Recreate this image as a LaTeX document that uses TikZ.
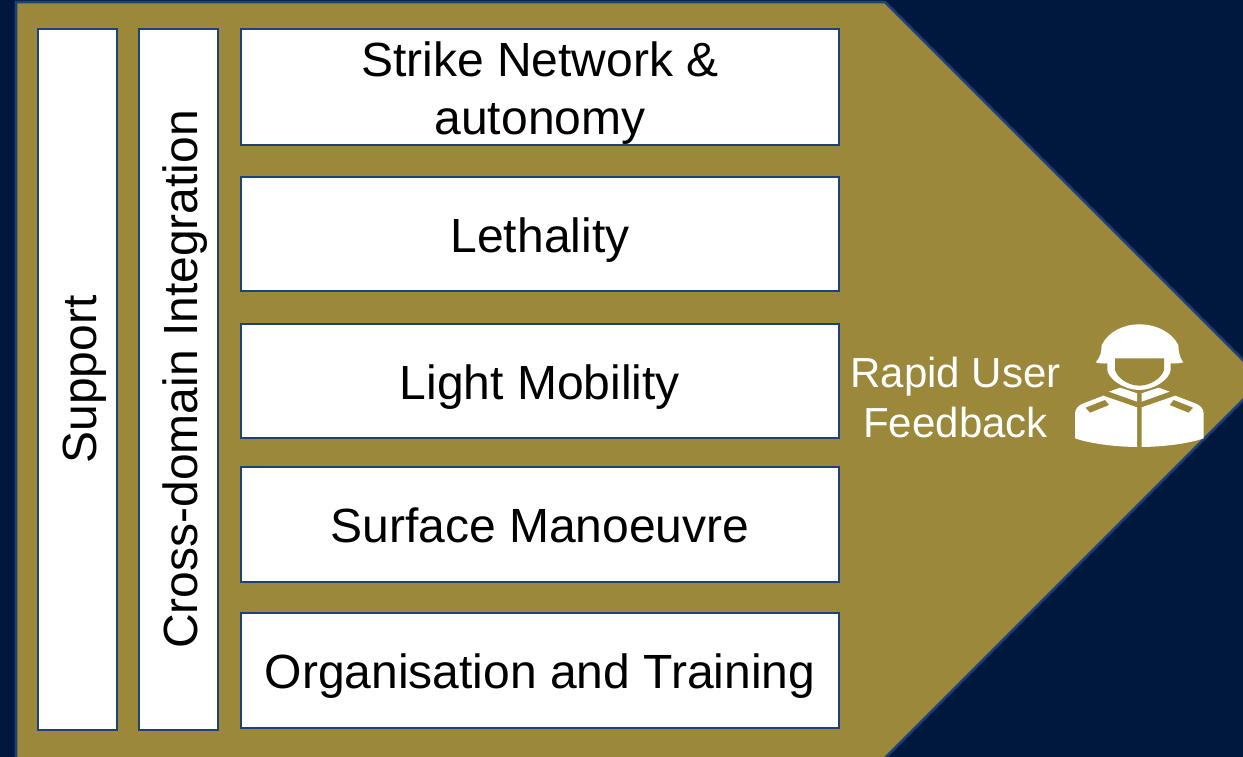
\documentclass[tikz,border=0pt]{standalone}
\usepackage{fontspec}
\setmainfont{Liberation Sans}
\definecolor{navy}{RGB}{0,24,62}
\definecolor{olive}{RGB}{155,136,58}
\definecolor{edge}{RGB}{28,66,120}
\tikzset{
    stream/.style={draw=edge, line width=2.6pt, fill=white, minimum width=598pt, minimum height=115pt, inner sep=0pt, align=center, font=\fontsize{48}{58}\selectfont, text height=36pt, text depth=0pt},
    pillar/.style={draw=edge, line width=2.6pt, fill=white, minimum width=701pt, minimum height=79pt, inner sep=0pt, rotate=90, font=\fontsize{48}{54}\selectfont, text height=37pt, text depth=0pt}
}
\begin{document}
\begin{tikzpicture}[x=1pt, y=-1pt]
        \useasboundingbox (0,0) rectangle (1243,757);
        \clip (0,0) rectangle (1243,757);
        \fill[navy] (0,0) rectangle (1243,757);
        \coordinate (tl) at (16,2);
        \coordinate (tr) at (885,2);
        \coordinate (tip) at (1263,380);
        \coordinate (br) at (885,758);
        \coordinate (bl) at (16,770);
        \draw[edge, fill=olive, line width=2.8pt] (bl) -- (tl) -- (tr) -- (tip) -- (br) -- (885,770) -- cycle;

        \node [pillar] (support) at (77.5,379.5) {Support};
        \node [pillar] (crossdomain) at (178.5,379.5) {Cross-domain Integration};

        \node [stream, minimum height=116pt, text height=96pt] (strike) at (540,87) {Strike Network \&\\autonomy};
        \node [stream, minimum height=114pt] (lethality) at (540,234) {Lethality};
        \node [stream, minimum height=114pt] (mobility) at (540,381) {Light Mobility};
        \node [stream] (surface) at (540,524.5) {Surface Manoeuvre};
        \node [stream] (training) at (540,670.5) {Organisation and Training};

        \node [white, align=center, font=\fontsize{42}{50}\selectfont] (feedback) at (955.5,397) {Rapid User\\Feedback};

        % soldier
        \begin{scope}[shift={(1050,310)}, scale=1/3]
            \fill[white] (137,157) .. controls (150,145) and (155,125) .. (155,105)
                .. controls (175,65) and (220,43) .. (268,43)
                .. controls (316,43) and (365,65) .. (385,105)
                .. controls (385,125) and (390,145) .. (400,157)
                .. controls (385,161) and (372,161) .. (362,160)
                -- (362,180) .. controls (358,210) and (310,240) .. (268,240)
                .. controls (226,240) and (176,210) .. (172,180)
                -- (172,160) .. controls (162,161) and (150,161) .. (137,157) -- cycle;
            \fill[olive] (195,145) -- (342,145) -- (342,180)
                .. controls (335,205) and (300,227) .. (268,227)
                .. controls (236,227) and (202,205) .. (195,180) -- cycle;
            \foreach \s in {1,-1} {
                \begin{scope}[xshift=268pt, xscale=\s]
                    \fill[white] (-91,245) -- (-58,233) -- (-36,240) -- (-7,250) -- (-7,275) -- cycle;
                    \fill[white] (-108,257) -- (-7,292) -- (-7,411)
                        .. controls (-80,410) and (-150,400) .. (-193,385)
                        -- (-193,310) .. controls (-193,295) and (-180,285) .. (-170,281) -- cycle;
                    \fill[olive] (-161,293) -- (-103,270) -- (-91,285) -- (-148,308) -- cycle;
                \end{scope}
            }
        \end{scope}
\end{tikzpicture}
\end{document}
